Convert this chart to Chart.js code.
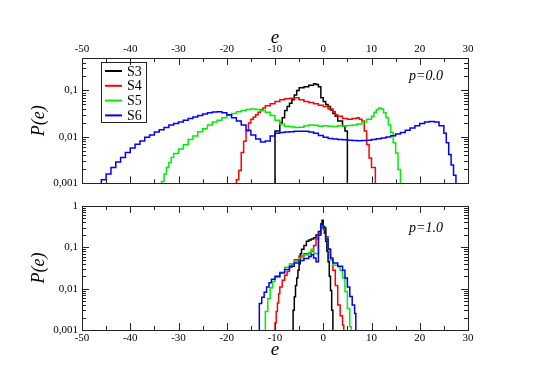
<!DOCTYPE html>
<html>
<head>
<meta charset="utf-8">
<script src="https://cdn.jsdelivr.net/npm/chart.js@4/dist/chart.umd.min.js"></script>
<style>
  body { margin: 0; background: #fff; }
  .panel { position: absolute; left: 0; }
</style>
</head>
<body>
<canvas id="topChart" class="panel" width="549" height="194" style="top:0"></canvas>
<canvas id="botChart" class="panel" width="549" height="194" style="top:194px"></canvas>
<script>
// histogram bins: e = left edge of each bin, p = P(e) in that bin (0 = empty)
const labels = ["S3", "S4", "S5", "S6"];
const colors = ["#000000", "#ff0000", "#00ee00", "#0000ff"];

// p = 0.0
const e3a = [-10, -10, -9, -8.5, -8, -7.5, -7, -6.5, -6, -5.5, -5, -4, -3, -2, -1.5, -1, -0.5, 0, 0.5, 1, 1.5, 2, 2.5, 3, 4, 4.5, 5];
const p3a = [0, 0.0135, 0.02, 0.026, 0.037, 0.045, 0.053, 0.063, 0.08, 0.1, 0.115, 0.12, 0.13, 0.14, 0.135, 0.12, 0.07, 0.058, 0.05, 0.045, 0.038, 0.032, 0.028, 0.022, 0.017, 0.0135, 0];

const e4a = [-18, -18, -17.5, -17, -16.5, -16, -15.5, -15, -14.5, -14, -13.5, -13, -12.5, -12, -11, -10, -9, -8, -7, -6, -5, -4, -3, -2, -1, 0, 1, 2, 2.5, 3, 4, 5, 6, 7, 7.5, 8, 8.5, 9, 9.5, 10, 10.8];
const p4a = [0, 0.0012, 0.0019, 0.0046, 0.0081, 0.0135, 0.02, 0.024, 0.027, 0.03, 0.034, 0.039, 0.042, 0.047, 0.052, 0.058, 0.063, 0.066, 0.068, 0.07, 0.063, 0.058, 0.055, 0.052, 0.048, 0.045, 0.04, 0.035, 0.03, 0.028, 0.025, 0.024, 0.025, 0.026, 0.024, 0.022, 0.0135, 0.0069, 0.0035, 0.0022, 0];

const e5a = [-33.5, -33.5, -33, -32.5, -32, -31.5, -31, -30, -29, -28,
  -27, -26, -25, -24, -23, -22, -21, -20, -19, -18,
  -17, -16, -15, -14, -13, -12, -11, -10, -9, -8,
  -7, -6, -5, -4, -3, -2, -1, 0, 1, 2,
  3, 4, 5, 6, 7, 8, 9,
  10, 10.5, 11, 11.5, 12, 12.5, 13, 13.5, 14, 14.5,
  15, 15.5, 16];
const p5a = [0, 0.0011, 0.0016, 0.0022, 0.0028, 0.0036, 0.0044, 0.0055, 0.0068, 0.0088,
  0.0105, 0.013, 0.015, 0.018, 0.021, 0.023, 0.026, 0.029, 0.032, 0.035,
  0.037, 0.039, 0.04, 0.039, 0.037, 0.034, 0.029, 0.023, 0.019, 0.017,
  0.0165, 0.016, 0.0162, 0.0175, 0.018, 0.0178, 0.017, 0.0175, 0.017, 0.0168,
  0.0175, 0.0172, 0.0176, 0.018, 0.019, 0.021, 0.024,
  0.028, 0.034, 0.039, 0.042, 0.04, 0.033, 0.026, 0.018, 0.0125, 0.0075,
  0.0045, 0.002, 0];

const e6a = [-46, -46, -45, -44, -43, -42, -41, -40, -39, -38,
  -37, -36, -35, -34, -33, -32, -31, -30, -29, -28,
  -27, -26, -25, -24, -23, -22, -21, -20, -19, -18,
  -17, -16, -15, -14, -13, -12, -11, -10, -9, -8,
  -7, -6, -5, -4, -3, -2, -1, 0, 1, 2,
  3, 4, 5, 6, 7, 8, 9, 10, 11, 12,
  13, 14, 15, 16, 17, 18, 19, 20, 21, 22,
  23, 24, 25, 25.5, 26, 26.5, 27, 27.5];
const p6a = [0, 0.0012, 0.0016, 0.0022, 0.0029, 0.0036, 0.0046, 0.0058, 0.007, 0.0082,
  0.0098, 0.011, 0.0128, 0.0142, 0.016, 0.018, 0.0195, 0.021, 0.023, 0.025,
  0.027, 0.029, 0.031, 0.033, 0.0345, 0.035, 0.033, 0.03, 0.026, 0.022,
  0.018, 0.014, 0.011, 0.009, 0.0078, 0.0082, 0.0105, 0.012, 0.0125, 0.0128,
  0.013, 0.0132, 0.0133, 0.0132, 0.0128, 0.012, 0.0108, 0.0098, 0.0093, 0.009,
  0.0088, 0.0087, 0.0085, 0.0084, 0.0083, 0.0084, 0.0085, 0.0088, 0.0091, 0.0095,
  0.01, 0.0106, 0.0115, 0.0125, 0.014, 0.0155, 0.0175, 0.0195, 0.021, 0.0215,
  0.021, 0.0175, 0.012, 0.0075, 0.0042, 0.0025, 0.0015, 0];

// p = 1.0
const e3b = [-6.25, -6.25, -6, -5.75, -5.5, -5.25, -5, -4.75, -4.5, -4, -3.5, -3, -2.5, -2, -1.5, -1, -0.5, -0.25, 0, 0.25, 0.5, 0.75, 1, 1.25, 1.5, 1.75, 2];
const p3b = [0, 0.003, 0.0064, 0.012, 0.018, 0.028, 0.04, 0.07, 0.09, 0.11, 0.14, 0.15, 0.16, 0.17, 0.2, 0.24, 0.35, 0.45, 0.32, 0.22, 0.14, 0.08, 0.045, 0.02, 0.009, 0.003, 0];

const e4b = [-10, -10, -9.75, -9.5, -9.25, -9, -8.5, -8, -7.5, -7, -6.5, -6, -5, -4, -3, -2.5, -2, -1.5, -1, -0.5, 0, 0.5, 1, 1.5, 2, 2.5, 3, 3.5, 4, 4.25];
const p4b = [0, 0.0015, 0.0028, 0.0045, 0.0075, 0.011, 0.016, 0.021, 0.026, 0.033, 0.04, 0.05, 0.062, 0.07, 0.072, 0.08, 0.11, 0.16, 0.22, 0.3, 0.27, 0.18, 0.09, 0.05, 0.028, 0.012, 0.004, 0.0022, 0.0013, 0];

const e5b = [-12, -12, -11.5, -11, -10.5, -10, -9, -8, -7, -6, -5, -4, -3, -2.5, -2, -1.5, -1, -0.5, 0, 0.5, 1, 1.5, 2, 3, 3.5, 4, 4.5, 5, 5.5, 5.8];
const p5b = [0, 0.0028, 0.0058, 0.0105, 0.015, 0.019, 0.025, 0.033, 0.04, 0.046, 0.055, 0.065, 0.075, 0.09, 0.072, 0.07, 0.2, 0.33, 0.3, 0.16, 0.09, 0.05, 0.037, 0.034, 0.028, 0.018, 0.0085, 0.0033, 0.0012, 0];

const e6b = [-13.25, -13.25, -12.75, -12.25, -11.75, -11.25, -10.75, -10, -9, -8, -7, -6, -5, -4, -3, -2.5, -2, -1.5, -1, -0.5, 0, 0.5, 1, 1.5, 2, 3, 4, 4.5, 5, 5.5, 6, 6.5, 6.75];
const p6b = [0, 0.0044, 0.0062, 0.0082, 0.011, 0.014, 0.017, 0.02, 0.024, 0.029, 0.035, 0.042, 0.048, 0.054, 0.06, 0.066, 0.055, 0.045, 0.2, 0.37, 0.3, 0.16, 0.09, 0.055, 0.042, 0.035, 0.028, 0.018, 0.011, 0.0065, 0.004, 0.0025, 0];

const xTicks = [-50, -40, -30, -20, -10, 0, 10, 20, 30];
const yTicksTop = [0.001, 0.01, 0.1];
const yTicksBot = [0.001, 0.01, 0.1, 1];

const serif = "'Liberation Serif', 'Times New Roman', serif";

function makeSets(es, ps) {
  return es.map((e, k) => ({
    label: labels[k],
    // log axis: empty bins go below the frame and get clipped
    data: e.map((x, i) => ({ x: x, y: ps[k][i] || 1e-5 })),
    borderColor: colors[k],
    borderWidth: 1.5,
    pointRadius: 0,
    stepped: true,
    fill: false,
    clip: 0,
    order: 3 - k
  }));
}

// frame with inward ticks on all sides, legend box, panel label
const decor = {
  id: 'decor',
  afterDraw(chart, args, o) {
    const ctx = chart.ctx, a = chart.chartArea;
    const sx = chart.scales.x, sy = chart.scales.y;
    ctx.save();
    ctx.strokeStyle = '#222';
    ctx.lineWidth = 1;
    ctx.beginPath();
    for (let v = -50; v <= 30; v += 5) {
      const px = Math.round(sx.getPixelForValue(v)) + 0.5;
      const len = v % 10 === 0 ? 7 : 4;
      ctx.moveTo(px, a.top); ctx.lineTo(px, a.top + len);
      ctx.moveTo(px, a.bottom); ctx.lineTo(px, a.bottom - len);
    }
    for (let d = -3; d <= 0; d++) {
      for (let m = 1; m < 10; m++) {
        const v = m * Math.pow(10, d);
        if (v > sy.max * 1.0001) continue;
        const py = Math.round(sy.getPixelForValue(v)) + 0.5;
        const len = m === 1 ? 7 : 4;
        ctx.moveTo(a.left, py); ctx.lineTo(a.left + len, py);
        ctx.moveTo(a.right, py); ctx.lineTo(a.right - len, py);
      }
    }
    ctx.stroke();
    ctx.strokeRect(Math.round(a.left) + 0.5, Math.round(a.top) + 0.5, Math.round(a.width), Math.round(a.height));

    ctx.fillStyle = '#000';
    ctx.font = 'italic 14px ' + serif;
    ctx.textBaseline = 'middle';
    ctx.textAlign = 'left';
    ctx.fillText(o.text, a.right - 59, a.top + o.dy);

    if (o.legend) {
      const lx = a.left + 19, ly = a.top + 4;
      ctx.strokeStyle = '#222';
      ctx.lineWidth = 1;
      ctx.strokeRect(lx + 0.5, ly + 0.5, 45, 60);
      ctx.font = '14px ' + serif;
      chart.data.datasets.forEach((ds, i) => {
        const yy = ly + 9 + i * 14.8;
        ctx.strokeStyle = ds.borderColor;
        ctx.lineWidth = 2;
        ctx.beginPath();
        ctx.moveTo(lx + 4, yy); ctx.lineTo(lx + 21, yy);
        ctx.stroke();
        ctx.fillText(ds.label, lx + 26, yy + 1);
      });
    }
    ctx.restore();
  }
};

function axisOpts(pos, titlePad, height) {
  return {
    type: 'linear', position: pos, min: -50, max: 30,
    afterBuildTicks: s => { s.ticks = xTicks.map(v => ({ value: v })); },
    ticks: { padding: 2, color: '#000', font: { family: serif, size: 11 }, maxRotation: 0, autoSkip: false },
    grid: { display: false, drawTicks: false },
    border: { display: false },
    title: { display: true, text: 'e', color: '#000', font: { family: serif, size: 19, style: 'italic' }, padding: titlePad },
    afterFit: s => { s.height = height; }
  };
}

function yOpts(max, ticks) {
  return {
    type: 'logarithmic', min: 0.001, max: max,
    afterBuildTicks: s => { s.ticks = ticks.map(v => ({ value: v })); },
    ticks: { padding: 4, color: '#000', font: { family: serif, size: 11 }, autoSkip: false,
      callback: v => String(v).replace('.', ',') },
    grid: { display: false, drawTicks: false },
    border: { display: false },
    title: { display: true, text: 'P(e)', color: '#000', font: { family: serif, size: 18, style: 'italic' }, padding: { top: 28, bottom: 0 } },
    afterFit: s => { s.width = 82; }
  };
}

new Chart(document.getElementById('topChart'), {
  type: 'line',
  data: { datasets: makeSets([e3a, e4a, e5a, e6a], [p3a, p4a, p5a, p6a]) },
  options: {
    responsive: false, animation: false,
    layout: { padding: { left: 0, right: 81, top: 0, bottom: 8 } },
    plugins: { legend: { display: false }, tooltip: { enabled: false },
      decor: { text: 'p=0.0', dy: 18, legend: true } },
    scales: { x: axisOpts('top', { top: 27, bottom: 0 }, 58), y: yOpts(0.5, yTicksTop) }
  },
  plugins: [decor]
});

new Chart(document.getElementById('botChart'), {
  type: 'line',
  data: { datasets: makeSets([e3b, e4b, e5b, e6b], [p3b, p4b, p5b, p6b]) },
  options: {
    responsive: false, animation: false,
    layout: { padding: { left: 0, right: 81, top: 12, bottom: 0 } },
    plugins: { legend: { display: false }, tooltip: { enabled: false },
      decor: { text: 'p=1.0', dy: 22, legend: false } },
    scales: { x: axisOpts('bottom', { top: 0, bottom: 27 }, 58), y: yOpts(1, yTicksBot) }
  },
  plugins: [decor]
});
</script>
</body>
</html>
